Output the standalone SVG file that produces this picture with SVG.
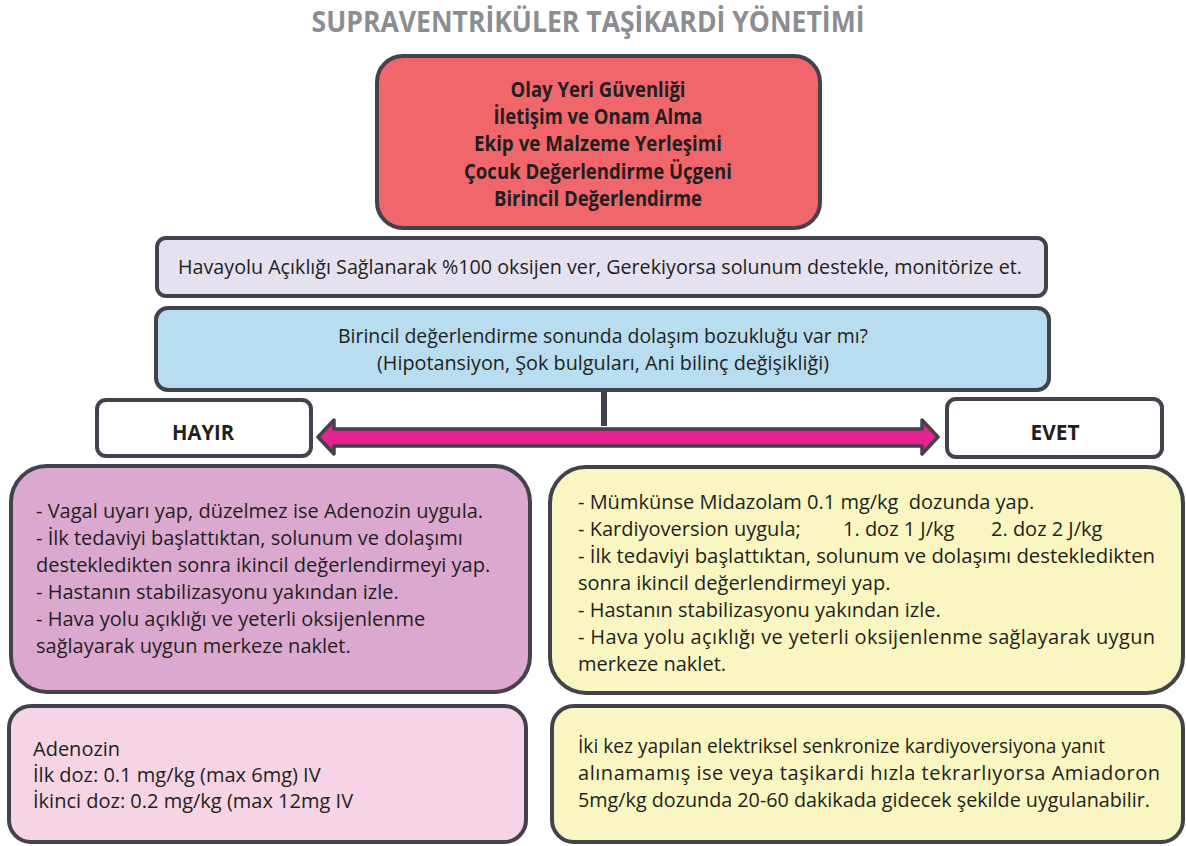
<svg xmlns="http://www.w3.org/2000/svg" width="1186" height="846" viewBox="0 0 1186 846">
  <defs>
    <style>
      .box { stroke: #41424c; stroke-width: 4; }
      .t { font-family: "Open Sans", Lato, "DejaVu Sans", sans-serif; font-size: 20px; fill: #231f20; }
      .b { font-weight: bold; }
      .c { text-anchor: middle; }
      .head { font-size: 21px; }
      .tag { font-size: 21px; }
      .title { font-family: "Open Sans", Lato, sans-serif; font-weight: bold; font-size: 28px; fill: #8c8d90; text-anchor: middle; }
    </style>
  </defs>

  <rect width="1186" height="846" fill="#ffffff"/>

  <text class="title" x="588" y="32" textLength="553" lengthAdjust="spacingAndGlyphs">SUPRAVENTRİKÜLER TAŞİKARDİ YÖNETİMİ</text>

  <g id="initial-steps">
    <rect class="box" x="377" y="56" width="443" height="172" rx="26" fill="#f0666a"/>
    <text class="t b c head" x="598" y="97" textLength="175" lengthAdjust="spacingAndGlyphs">Olay Yeri Güvenliği</text>
    <text class="t b c head" x="598" y="124" textLength="209" lengthAdjust="spacingAndGlyphs">İletişim ve Onam Alma</text>
    <text class="t b c head" x="598" y="151" textLength="248" lengthAdjust="spacingAndGlyphs">Ekip ve Malzeme Yerleşimi</text>
    <text class="t b c head" x="598" y="179" textLength="268" lengthAdjust="spacingAndGlyphs">Çocuk Değerlendirme Üçgeni</text>
    <text class="t b c head" x="598" y="206" textLength="208" lengthAdjust="spacingAndGlyphs">Birincil Değerlendirme</text>
  </g>

  <g id="airway">
    <rect class="box" x="157" y="238" width="889" height="58" rx="9" fill="#e6e1ef"/>
    <text class="t c" x="600" y="274" textLength="844" lengthAdjust="spacingAndGlyphs">Havayolu Açıklığı Sağlanarak %100 oksijen ver, Gerekiyorsa solunum destekle, monitörize et.</text>
  </g>

  <g id="question">
    <rect class="box" x="156" y="308" width="893" height="82" rx="12" fill="#b8dcf0"/>
    <text class="t c" x="603" y="343" textLength="530" lengthAdjust="spacingAndGlyphs">Birincil değerlendirme sonunda dolaşım bozukluğu var mı?</text>
    <text class="t c" x="603" y="370" textLength="452" lengthAdjust="spacingAndGlyphs">(Hipotansiyon, Şok bulguları, Ani bilinç değişikliği)</text>
  </g>

  <g id="no">
    <rect class="box" x="97" y="400" width="214" height="56" rx="9" fill="#ffffff"/>
    <text class="t b c tag" x="203" y="440" textLength="62" lengthAdjust="spacingAndGlyphs">HAYIR</text>
  </g>

  <g id="yes">
    <rect class="box" x="947" y="399" width="215" height="58" rx="9" fill="#ffffff"/>
    <text class="t b c tag" x="1055" y="440" textLength="49" lengthAdjust="spacingAndGlyphs">EVET</text>
  </g>

  <g id="connectors">
    <line x1="604" y1="390" x2="604" y2="426" stroke="#41424c" stroke-width="6"/>
    <path d="M318 437 L334 420 L334 429 L922 429 L922 420 L938 437 L922 454 L922 446 L334 446 L334 454 Z"
          fill="#e4238f" stroke="#41424c" stroke-width="3.5" stroke-linejoin="round"/>
  </g>

  <g id="no-actions">
    <rect class="box" x="11" y="466" width="519" height="226" rx="36" fill="#dba9cf"/>
    <text class="t" x="36" y="518">- Vagal uyarı yap, düzelmez ise Adenozin uygula.</text>
    <text class="t" x="36" y="545">- İlk tedaviyi başlattıktan, solunum ve dolaşımı</text>
    <text class="t" x="36" y="572">destekledikten sonra ikincil değerlendirmeyi yap.</text>
    <text class="t" x="36" y="599">- Hastanın stabilizasyonu yakından izle.</text>
    <text class="t" x="36" y="626">- Hava yolu açıklığı ve yeterli oksijenlenme</text>
    <text class="t" x="36" y="653">sağlayarak uygun merkeze naklet.</text>
  </g>

  <g id="yes-actions">
    <rect class="box" x="550" y="467" width="633" height="226" rx="36" fill="#f9f6c1"/>
    <text class="t" x="578" y="509" xml:space="preserve">- Mümkünse Midazolam 0.1 mg/kg  dozunda yap.</text>
    <text class="t" x="578" y="536">- Kardiyoversion uygula;</text>
    <text class="t" x="843" y="536">1. doz 1 J/kg</text>
    <text class="t" x="991" y="536">2. doz 2 J/kg</text>
    <text class="t" x="578" y="563" textLength="577" lengthAdjust="spacingAndGlyphs">- İlk tedaviyi başlattıktan, solunum ve dolaşımı destekledikten</text>
    <text class="t" x="578" y="590">sonra ikincil değerlendirmeyi yap.</text>
    <text class="t" x="578" y="617">- Hastanın stabilizasyonu yakından izle.</text>
    <text class="t" x="578" y="644" textLength="577" lengthAdjust="spacing">- Hava yolu açıklığı ve yeterli oksijenlenme sağlayarak uygun</text>
    <text class="t" x="578" y="671">merkeze naklet.</text>
  </g>

  <g id="adenosine-dose">
    <rect class="box" x="9" y="706" width="517" height="136" rx="22" fill="#f6d3e5"/>
    <text class="t" x="33" y="756">Adenozin</text>
    <text class="t" x="33" y="782">İlk doz: 0.1 mg/kg (max 6mg) IV</text>
    <text class="t" x="33" y="808">İkinci doz: 0.2 mg/kg (max 12mg IV</text>
  </g>

  <g id="amiodarone-note">
    <rect class="box" x="552" y="706" width="631" height="136" rx="22" fill="#f9f6c1"/>
    <text class="t" x="578" y="753" textLength="527" lengthAdjust="spacingAndGlyphs">İki kez yapılan elektriksel senkronize kardiyoversiyona yanıt</text>
    <text class="t" x="578" y="780" textLength="582" lengthAdjust="spacing">alınamamış ise veya taşikardi hızla tekrarlıyorsa Amiadoron</text>
    <text class="t" x="578" y="807" textLength="572" lengthAdjust="spacingAndGlyphs">5mg/kg dozunda 20-60 dakikada gidecek şekilde uygulanabilir.</text>
  </g>
</svg>
